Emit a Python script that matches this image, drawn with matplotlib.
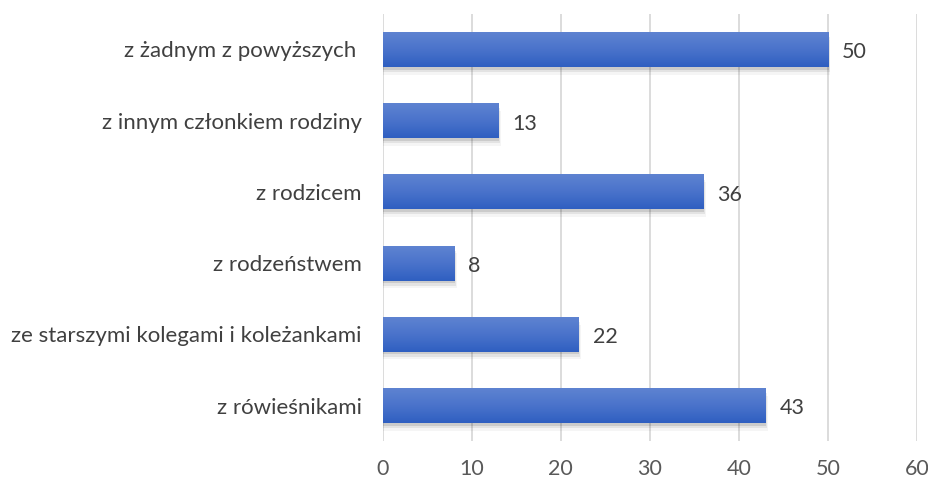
import numpy as np
import matplotlib.pyplot as plt
from matplotlib.colors import LinearSegmentedColormap
from matplotlib.patches import Rectangle

categories = ["z rówieśnikami", "ze starszymi kolegami i koleżankami", "z rodzeństwem",
              "z rodzicem", "z innym członkiem rodziny", "z żadnym z powyższych "]
values = [43, 22, 8, 36, 13, 50]
ticks = [0, 10, 20, 30, 40, 50, 60]

plt.rcParams['font.family'] = ['Lato', 'DejaVu Sans']

fig = plt.figure(figsize=(9.29, 4.79), dpi=100)
ax = fig.add_axes([0.412, 0.079, 0.575, 0.892])

grad = LinearSegmentedColormap.from_list("bar", ["#2F5FC1", "#4A73CB", "#5E83D1"])
h = 0.49
pos = np.arange(len(categories))
for y, v in zip(pos, values):
    # soft shadow
    for k, a in enumerate([0.10, 0.07, 0.04]):
        d = 0.012 * (k + 1)
        ax.add_patch(Rectangle((0, y - h / 2 - d * 3), v + d * 8, h, color="black",
                               alpha=a, lw=0, zorder=2))
    ax.imshow(np.linspace(0, 1, 100).reshape(-1, 1), cmap=grad, aspect="auto",
              extent=(0, v, y - h / 2, y + h / 2), origin="lower", zorder=3)
    ax.text(v + 1.6, y - 0.04, str(v), va="center", ha="left", fontsize=15.5,
            color="#404040")

ax.set_xlim(0, 60)
ax.set_ylim(-0.5, len(categories) - 0.5)
ax.set_xticks(ticks)
ax.set_yticks(pos)
ax.set_yticklabels(categories)
ax.grid(axis="x", color="#D9D9D9", lw=1.3, zorder=0)
ax.set_axisbelow(True)
for s in ax.spines.values():
    s.set_visible(False)
ax.tick_params(axis="x", length=0, pad=13, labelsize=15.5, labelcolor="#595959")
ax.tick_params(axis="y", length=0, pad=15, labelsize=16, labelcolor="#404040")

plt.savefig("out.png", dpi=100)
